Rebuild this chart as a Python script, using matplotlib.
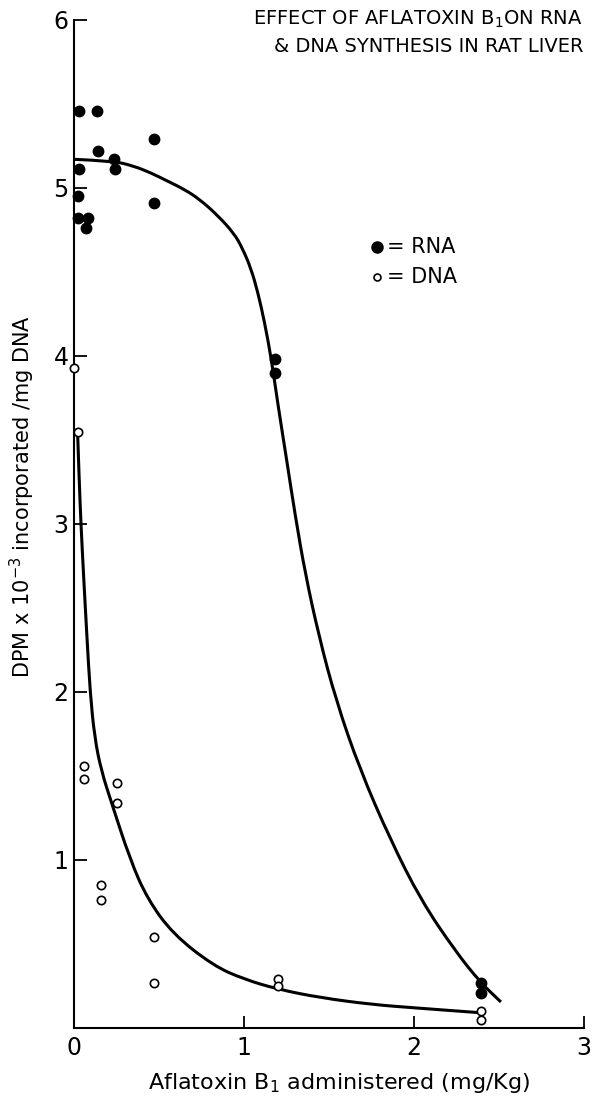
import matplotlib.pyplot as plt
from matplotlib.path import Path
from matplotlib.patches import PathPatch

# data
rna_dose = [0.03, 0.135, 0.14, 0.235, 0.24, 0.03, 0.025, 0.025, 0.08, 0.07, 0.47, 0.47, 1.18, 1.18, 2.39, 2.39]
rna_dpm = [5.46, 5.46, 5.22, 5.17, 5.11, 5.11, 4.95, 4.82, 4.82, 4.76, 5.29, 4.91, 3.98, 3.90, 0.27, 0.21]

dna_dose = [0.0, 0.025, 0.055, 0.055, 0.16, 0.16, 0.25, 0.25, 0.47, 0.47, 1.2, 1.2, 2.39, 2.39]
dna_dpm = [3.93, 3.55, 1.56, 1.48, 0.85, 0.76, 1.46, 1.34, 0.54, 0.27, 0.29, 0.25, 0.10, 0.05]

# hand-drawn curves
rna_curve_x = [0.0, 0.23, 0.35, 0.45, 0.55, 0.65, 0.74, 0.84, 0.94, 0.99, 1.04, 1.08, 1.12, 1.16,
               1.20, 1.25, 1.30, 1.36, 1.44, 1.54, 1.68, 1.86, 2.04, 2.24, 2.39, 2.51]
rna_curve_y = [5.17, 5.16, 5.13, 5.09, 5.04, 4.99, 4.93, 4.84, 4.73, 4.64, 4.52, 4.38, 4.20, 3.98,
               3.70, 3.38, 3.05, 2.70, 2.33, 1.95, 1.54, 1.12, 0.76, 0.46, 0.27, 0.155]

dna_curve_x = [0.02, 0.03, 0.04, 0.055, 0.075, 0.094, 0.12, 0.16, 0.22, 0.33, 0.43, 0.58, 0.82, 1.0,
               1.2, 1.45, 1.75, 2.0, 2.4]
dna_curve_y = [3.55, 3.25, 3.0, 2.70, 2.33, 2.0, 1.73, 1.53, 1.34, 1.0, 0.77, 0.56, 0.37, 0.29,
               0.23, 0.18, 0.14, 0.12, 0.09]

xticks = [0, 1, 2, 3]
yticks = [1, 2, 3, 4, 5, 6]


def smooth_path(xs, ys):
    # quadratic bezier through the midpoints of the traced points
    pts = list(zip(xs, ys))
    verts = [pts[0]]
    codes = [Path.MOVETO]
    for i in range(1, len(pts) - 1):
        mid = ((pts[i][0] + pts[i + 1][0]) / 2, (pts[i][1] + pts[i + 1][1]) / 2)
        verts += [pts[i], mid]
        codes += [Path.CURVE3, Path.CURVE3]
    verts.append(pts[-1])
    codes.append(Path.LINETO)
    return Path(verts, codes)


plt.rcParams['font.family'] = 'DejaVu Sans'
fig = plt.figure(figsize=(5.98, 11.03), dpi=100)
ax = fig.add_axes([0.124, 0.068, 0.853, 0.914])

ax.add_patch(PathPatch(smooth_path(rna_curve_x, rna_curve_y), fill=False, lw=2.2, ec='black'))
ax.add_patch(PathPatch(smooth_path(dna_curve_x, dna_curve_y), fill=False, lw=2.2, ec='black'))

ax.plot(rna_dose, rna_dpm, 'o', color='black', ms=7.5, clip_on=False, zorder=3)
ax.plot(dna_dose, dna_dpm, 'o', mfc='white', mec='black', mew=1.2, ms=6, clip_on=False, zorder=3)

ax.set_xlim(0, 3)
ax.set_ylim(0, 6)
ax.spines['right'].set_color('none')
ax.spines['top'].set_color('none')
ax.spines['left'].set_linewidth(1.5)
ax.spines['bottom'].set_linewidth(1.5)

ax.set_xticks(xticks)
ax.set_yticks(yticks)
ax.set_xticklabels(['0', '1', '2', '3'])
ax.set_yticklabels(['1', '2', '3', '4', '5', '6'])
ax.tick_params(direction='in', length=9, width=1.3, labelsize=17)
ax.tick_params(axis='x', pad=6)
ax.tick_params(axis='y', pad=4)

ax.set_xlabel('Aflatoxin B$_1$ administered (mg/Kg)', fontsize=16)
ax.set_ylabel('DPM x 10$^{-3}$ incorporated /mg DNA', fontsize=15)
ax.xaxis.set_label_coords(0.52, -0.043)
ax.yaxis.set_label_coords(-0.072, 0.527)

fig.text(0.975, 0.992, 'EFFECT OF AFLATOXIN B$_1$ON RNA\n& DNA SYNTHESIS IN RAT LIVER',
         ha='right', va='top', fontsize=14, linespacing=1.45)

ax.plot([1.78], [4.65], 'o', color='black', ms=8)
ax.text(1.84, 4.65, '= RNA', fontsize=15, va='center')
ax.plot([1.78], [4.47], 'o', mfc='white', mec='black', mew=1.2, ms=5)
ax.text(1.84, 4.47, '= DNA', fontsize=15, va='center')

plt.savefig('out.png', dpi=100)
